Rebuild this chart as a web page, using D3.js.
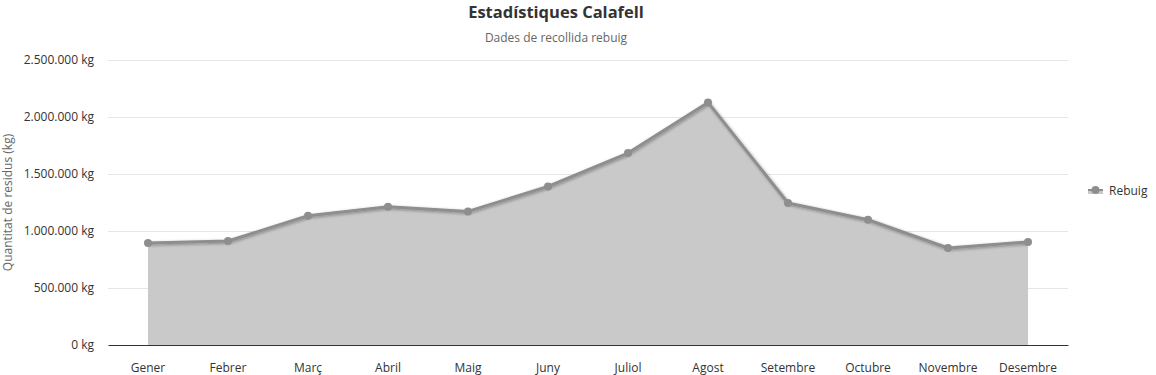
<!DOCTYPE html>
<html>
<head>
<meta charset="utf-8">
<script src="https://cdn.jsdelivr.net/npm/d3@7"></script>
<style>
  body { margin: 0; background: #fff; overflow: hidden; }
  svg { display: block; }
  text { font-family: "Open Sans", "Noto Sans", sans-serif; }
</style>
</head>
<body>
<svg width="1156" height="375"></svg>
<script>
const svg = d3.select("svg");
const width = +svg.attr("width");
const height = +svg.attr("height");

// dades
const months = ["Gener", "Febrer", "Març", "Abril", "Maig", "Juny", "Juliol",
  "Agost", "Setembre", "Octubre", "Novembre", "Desembre"];
const rebuig = [895000, 912000, 1134000, 1213000, 1172000, 1391000, 1684000,
  2128000, 1246000, 1099000, 851000, 904000];
const yTicks = [0, 500000, 1000000, 1500000, 2000000, 2500000];
const seriesName = "Rebuig";

const margin = { top: 60, right: 88, bottom: 30, left: 108 };
const innerWidth = width - margin.left - margin.right;
const innerHeight = 345 - margin.top;

const xScale = d3.scaleBand().domain(months).range([0, innerWidth]);
const yScale = d3.scaleLinear().domain([0, 2500000]).range([innerHeight, 0]);
const fmt = (v) => d3.format(",")(v).replace(/,/g, ".") + " kg";

// ombra de la línia
const defs = svg.append("defs");
const f = defs.append("filter").attr("id", "shadow")
  .attr("x", "-10%").attr("y", "-10%").attr("width", "120%").attr("height", "130%");
f.append("feDropShadow").attr("dx", 1).attr("dy", 1).attr("stdDeviation", 1.5)
  .attr("flood-color", "#000").attr("flood-opacity", 0.35);

const g = svg.append("g")
  .attr("transform", `translate(${margin.left},${margin.top})`);

// eix y
const yAxisG = g.append("g")
  .call(d3.axisLeft(yScale).tickValues(yTicks).tickFormat(fmt)
    .tickSize(-innerWidth).tickPadding(14));
yAxisG.select(".domain").remove();
yAxisG.selectAll(".tick line").attr("stroke", "#e6e6e6");
yAxisG.selectAll(".tick text").attr("fill", "#333").style("font-size", "12px");

// àrea
const cx = (i) => xScale(months[i]) + xScale.bandwidth() / 2;
const area = d3.area()
  .x((d, i) => cx(i))
  .y0(yScale(0))
  .y1((d) => yScale(d));
g.append("path").datum(rebuig).attr("d", area).attr("fill", "#c9c9c9");

// línia
const line = d3.line().x((d, i) => cx(i)).y((d) => yScale(d));
g.append("path").datum(rebuig).attr("d", line)
  .attr("fill", "none").attr("stroke", "#8e8e8e").attr("stroke-width", 3)
  .attr("stroke-linejoin", "round").attr("filter", "url(#shadow)");

g.selectAll("circle.pt").data(rebuig).enter().append("circle")
  .attr("class", "pt")
  .attr("cx", (d, i) => cx(i))
  .attr("cy", (d) => yScale(d))
  .attr("r", 4)
  .attr("fill", "#8e8e8e");

// eix x
const xAxisG = g.append("g")
  .attr("transform", `translate(0,${innerHeight})`)
  .call(d3.axisBottom(xScale).tickSize(0).tickPadding(18));
xAxisG.select(".domain").attr("stroke", "#333");
xAxisG.selectAll(".tick text").attr("fill", "#333").style("font-size", "12px");

// títol eix y
svg.append("text")
  .attr("transform", `translate(12,${margin.top + innerHeight / 2}) rotate(-90)`)
  .attr("text-anchor", "middle")
  .attr("fill", "#666")
  .style("font-size", "12px")
  .text("Quantitat de residus (kg)");

// títol
svg.append("text").attr("x", 556).attr("y", 18).attr("text-anchor", "middle")
  .attr("fill", "#333").style("font-size", "16.5px").style("font-weight", "bold")
  .text("Estadístiques Calafell");
svg.append("text").attr("x", 556).attr("y", 42).attr("text-anchor", "middle")
  .attr("fill", "#666").style("font-size", "12px")
  .text("Dades de recollida rebuig");

// llegenda
const lg = svg.append("g").attr("transform", "translate(1088,190)");
lg.append("rect").attr("x", 0).attr("y", 0).attr("width", 15).attr("height", 4).attr("fill", "#c9c9c9");
lg.append("line").attr("x1", 0).attr("x2", 15).attr("y1", 0).attr("y2", 0)
  .attr("stroke", "#8e8e8e").attr("stroke-width", 2);
lg.append("circle").attr("cx", 7.5).attr("cy", 0).attr("r", 4).attr("fill", "#8e8e8e");
lg.append("text").attr("x", 21).attr("y", 4.5).attr("fill", "#333")
  .style("font-size", "12px").text(seriesName);
</script>
</body>
</html>
